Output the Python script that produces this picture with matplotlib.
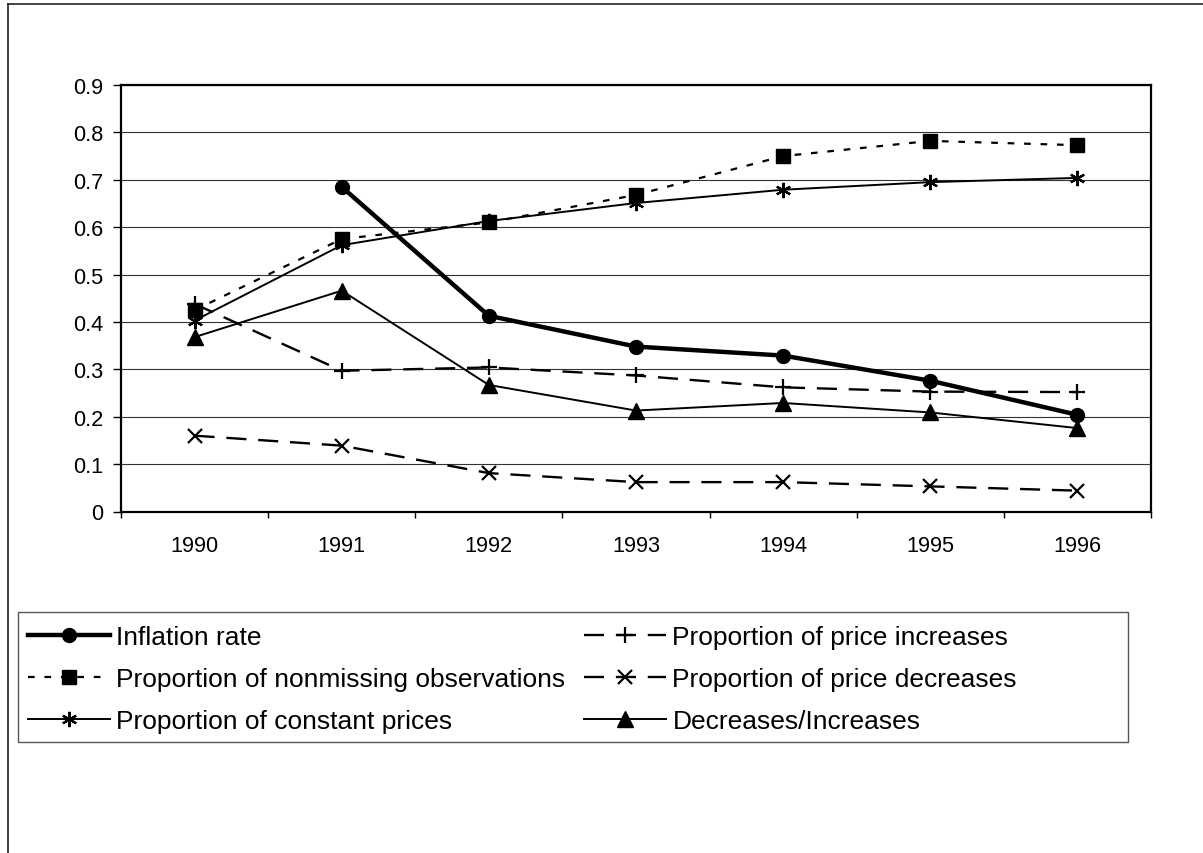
import numpy as np
import matplotlib
matplotlib.use("Agg")
import matplotlib.pyplot as plt
from matplotlib.patches import Rectangle
from matplotlib.lines import Line2D

plt.rcParams['font.family'] = ['Liberation Sans', 'DejaVu Sans']

years = ['1990', '1991', '1992', '1993', '1994', '1995', '1996']
inflation = [np.nan, 0.685, 0.413, 0.348, 0.329, 0.276, 0.204]
nonmissing = [0.425, 0.575, 0.610, 0.668, 0.750, 0.782, 0.773]
constant = [0.403, 0.562, 0.613, 0.651, 0.679, 0.695, 0.704]
increases = [0.438, 0.297, 0.304, 0.287, 0.262, 0.253, 0.252]
decreases = [0.160, 0.139, 0.081, 0.062, 0.062, 0.053, 0.044]
dec_inc = [0.368, 0.466, 0.267, 0.213, 0.229, 0.209, 0.176]

W, H = 1203, 854
fig = plt.figure(figsize=(W / 100, H / 100), dpi=100)
ax = fig.add_axes([121 / W, 1 - 512.5 / H, 1030 / W, 426.5 / H])

x = np.arange(len(years))

ax.plot(x, inflation, '-', color='black', lw=3.2, marker='o', ms=10,
        label='Inflation rate', zorder=5)
ax.plot(x, nonmissing, color='black', lw=1.6, dashes=(3.0, 4.4), marker='s', ms=10.5,
        label='Proportion of nonmissing observations', zorder=4)
ax.plot(x, constant, '-', color='black', lw=1.4, marker=(6, 2, 0), ms=11, mew=1.6,
        label='Proportion of constant prices', zorder=4)
ax.plot(x, increases, color='black', lw=1.7, dashes=(8.5, 5), marker='+', ms=11, mew=1.6,
        label='Proportion of price increases', zorder=3)
ax.plot(x, decreases, color='black', lw=1.7, dashes=(8.5, 5), marker='x', ms=10, mew=1.6,
        label='Proportion of price decreases', zorder=3)
ax.plot(x, dec_inc, '-', color='black', lw=1.4, marker='^', ms=11,
        label='Decreases/Increases', zorder=3)

ax.set_xlim(-0.5, len(years) - 0.5)
ax.set_ylim(0, 0.9)

yt = np.arange(0, 0.91, 0.1)
ax.set_yticks(yt)
ax.set_yticklabels(['0'] + [f'{v:.1f}' for v in yt[1:]])
ax.tick_params(axis='y', direction='out', length=5.6, width=1, pad=7, labelsize=15.7)

ax.set_xticks(np.arange(-0.5, len(years), 1.0))
ax.set_xticklabels([])
ax.tick_params(axis='x', which='major', direction='out', length=4.3, width=1)
ax.set_xticks(x, minor=True)
ax.set_xticklabels(years, minor=True)
ax.tick_params(axis='x', which='minor', length=0, pad=17, labelsize=15.7)

ax.yaxis.grid(True, color='#333333', lw=0.8)
ax.set_axisbelow(True)
for s in ax.spines.values():
    s.set_linewidth(1.6)
    s.set_color('black')

# legend box and entries
fig.add_artist(Rectangle((18 / W, 1 - 743 / H), 1110 / W, 130 / H, transform=fig.transFigure,
                         fill=False, edgecolor='#555555', lw=1))
fig.legend(loc='upper left', bbox_to_anchor=(28 / W, 1 - 626 / H), ncol=2, frameon=False,
           fontsize=19.0, borderpad=0, handlelength=3.1, handletextpad=0.25,
           labelspacing=0.68, columnspacing=0.7, numpoints=1, borderaxespad=0)

# outer border
fig.add_artist(Line2D([8 / W, 8 / W], [0, 1 - 5 / H], transform=fig.transFigure, color='#222222', lw=1.2))
fig.add_artist(Line2D([8 / W, 1], [1 - 5 / H, 1 - 5 / H], transform=fig.transFigure, color='#222222', lw=1.2))

fig.savefig('out.png', dpi=100)
